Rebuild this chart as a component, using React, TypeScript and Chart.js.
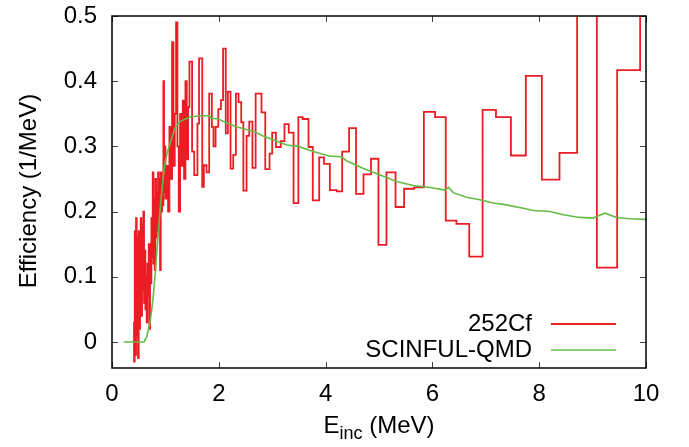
import React, { useEffect, useRef } from 'react';
import { Chart, registerables } from 'chart.js';

Chart.register(...registerables);

// Histogram bin left edges (MeV) — last entry is the right edge of the last bin
const redEdges = [
  0.4000, 0.4125, 0.4250, 0.4375, 0.4500, 0.4625, 0.4750, 0.4875, 0.5000, 0.5125,
  0.5250, 0.5375, 0.5500, 0.5625, 0.5750, 0.5875, 0.6000, 0.6125, 0.6250, 0.6375,
  0.6500, 0.6625, 0.6750, 0.6875, 0.7000, 0.7125, 0.7250, 0.7375, 0.7500, 0.7625,
  0.7750, 0.7875, 0.8000, 0.8125, 0.8250, 0.8375, 0.8500, 0.8625, 0.8750, 0.8875,
  0.9000, 0.9125, 0.9250, 0.9375, 0.9500, 0.9625, 0.9750, 0.9875,
  1.000, 1.025, 1.050, 1.075, 1.100, 1.125,
  1.150, 1.175, 1.200, 1.225, 1.250, 1.275, 1.300, 1.325, 1.350, 1.375,
  1.400, 1.425, 1.450, 1.500, 1.540, 1.600, 1.630, 1.690, 1.720, 1.770,
  1.820, 1.870, 1.900, 1.940, 1.990, 2.040, 2.080, 2.130, 2.170, 2.220,
  2.270, 2.320, 2.370, 2.420, 2.460, 2.520, 2.570, 2.630, 2.690, 2.800,
  2.870, 2.950, 3.000, 3.070, 3.160, 3.230, 3.310, 3.400, 3.490, 3.570,
  3.680, 3.760, 3.880, 3.970, 4.080, 4.210, 4.310, 4.440, 4.570, 4.710,
  4.850, 4.990, 5.140, 5.310, 5.470, 5.660, 5.840, 6.050, 6.250, 6.450,
  6.690, 6.940, 7.190, 7.470, 7.750, 8.050, 8.380, 8.710, 9.080, 9.460,
  9.890, 10.300,
];

// 252Cf efficiency per bin (1/MeV)
const redValues = [
  0.03, -0.03, 0.17, -0.02, 0.19, 0.01, 0.16, -0.025, 0.17, 0.02,
  0.12, 0.19, 0.04, 0.18, 0.08, 0.20, 0.06, 0.14, 0.05, 0.10,
  0.03, 0.12, 0.07, 0.15, 0.02, 0.15, 0.09, 0.19, 0.13, 0.26,
  0.12, 0.22, 0.11, 0.25, 0.16, 0.23, 0.17, 0.26, 0.19, 0.25,
  0.11, 0.26, 0.20, 0.24, 0.21, 0.40, 0.23, 0.30,
  0.22, 0.27, 0.20, 0.33, 0.25, 0.46,
  0.27, 0.35, 0.49, 0.30, 0.20, 0.35, 0.27, 0.37, 0.25, 0.40,
  0.28, 0.36, 0.43, 0.292, 0.256, 0.335, 0.435, 0.238, 0.271, 0.26,
  0.381, 0.33, 0.30, 0.33, 0.357, 0.371, 0.45, 0.32, 0.384, 0.266,
  0.287, 0.381, 0.368, 0.337, 0.232, 0.316, 0.338, 0.267, 0.381, 0.352,
  0.265, 0.289, 0.321, 0.299, 0.308, 0.334, 0.321, 0.213, 0.345, 0.342,
  0.299, 0.217, 0.283, 0.273, 0.233, 0.231, 0.292, 0.328, 0.227, 0.257,
  0.281, 0.149, 0.26, 0.207, 0.235, 0.237, 0.353, 0.345, 0.186, 0.181,
  0.131, 0.356, 0.345, 0.286, 0.408, 0.249, 0.290, 0.60, 0.114, 0.417,
  0.60,
];

// SCINFUL-QMD calculation
const greenEnergy = [
  0.22, 0.60, 0.65, 0.71, 0.76, 0.805, 0.85, 0.90, 0.95, 0.99,
  1.04, 1.09, 1.18, 1.27, 1.46, 1.65, 1.82, 1.86, 1.99, 2.15,
  2.33, 2.52, 2.68, 2.83, 3.02, 3.27, 3.49, 3.77, 4.08, 4.30,
  4.39, 4.71, 5.02, 5.33, 5.64, 5.96, 6.24, 6.30, 6.39, 6.64,
  6.89, 7.14, 7.33, 7.70, 7.89, 8.20, 8.45, 8.76, 9.01, 9.12,
  9.23, 9.45, 9.69, 10.0,
];
const greenEff = [
  0.0, 0.0, 0.008, 0.029, 0.06, 0.10, 0.15, 0.203, 0.245, 0.274,
  0.292, 0.305, 0.328, 0.338, 0.345, 0.347, 0.347, 0.343, 0.342, 0.336,
  0.330, 0.326, 0.322, 0.316, 0.310, 0.302, 0.300, 0.292, 0.285, 0.284,
  0.278, 0.266, 0.256, 0.246, 0.240, 0.237, 0.233, 0.237, 0.229, 0.222,
  0.218, 0.213, 0.211, 0.205, 0.2015, 0.200, 0.195, 0.191, 0.190, 0.194,
  0.1975, 0.191, 0.189, 0.188,
];

const xTicks = [0, 2, 4, 6, 8, 10];
const yTicks = [0, 0.1, 0.2, 0.3, 0.4, 0.5];
const seriesLabels = ['252Cf', 'SCINFUL-QMD'];

const RED = '#ec1c24';
const GREEN = '#66bb44';
const FONT = '"Liberation Sans", Arial, Helvetica, sans-serif';
const FONT_SIZE = 24;

export default function App() {
  const ref = useRef<HTMLCanvasElement>(null);

  useEffect(() => {
    document.body.style.margin = '0';
    const canvas = ref.current;
    if (!canvas) return;

    const redData = redEdges.map((x, i) => ({
      x,
      y: redValues[Math.min(i, redValues.length - 1)],
    }));
    const greenData = greenEnergy.map((x, i) => ({ x, y: greenEff[i] }));

    const framePlugin = {
      id: 'gnuFrame',
      afterDraw(chart: any) {
        const { ctx, chartArea } = chart;
        const { left, right, top, bottom } = chartArea;
        const xs = chart.scales.x;
        const ys = chart.scales.y;
        ctx.save();
        // inward ticks
        ctx.strokeStyle = '#444';
        ctx.lineWidth = 1;
        const tl = 6;
        ctx.beginPath();
        xTicks.forEach((v) => {
          const px = Math.round(xs.getPixelForValue(v)) + 0.5;
          ctx.moveTo(px, bottom);
          ctx.lineTo(px, bottom - tl);
          ctx.moveTo(px, top);
          ctx.lineTo(px, top + tl);
        });
        yTicks.forEach((v) => {
          const py = Math.round(ys.getPixelForValue(v)) + 0.5;
          ctx.moveTo(left, py);
          ctx.lineTo(left + tl, py);
          ctx.moveTo(right, py);
          ctx.lineTo(right - tl, py);
        });
        ctx.stroke();
        // frame
        ctx.strokeStyle = '#000';
        ctx.lineWidth = 1.5;
        ctx.strokeRect(left, top, right - left, bottom - top);

        // legend
        ctx.font = `${FONT_SIZE}px ${FONT}`;
        ctx.fillStyle = '#000';
        ctx.textAlign = 'right';
        ctx.textBaseline = 'middle';
        const legendY = [324, 350];
        const colors = [RED, GREEN];
        seriesLabels.forEach((lab, i) => {
          ctx.fillText(lab, 532, legendY[i]);
          ctx.strokeStyle = colors[i];
          ctx.lineWidth = i === 0 ? 1.8 : 1.6;
          ctx.beginPath();
          ctx.moveTo(551, legendY[i]);
          ctx.lineTo(616, legendY[i]);
          ctx.stroke();
        });

        // y-axis title
        ctx.save();
        ctx.translate(29, 191);
        ctx.rotate(-Math.PI / 2);
        ctx.textAlign = 'center';
        ctx.textBaseline = 'middle';
        ctx.fillStyle = '#000';
        ctx.font = `${FONT_SIZE}px ${FONT}`;
        ctx.fillText('Efficiency (1/MeV)', 0, 0);
        ctx.restore();

        // x-axis title with subscript
        const base = 433;
        const mainFont = `${FONT_SIZE}px ${FONT}`;
        const subFont = `${Math.round(FONT_SIZE * 0.75)}px ${FONT}`;
        ctx.textBaseline = 'alphabetic';
        ctx.textAlign = 'left';
        ctx.font = mainFont;
        const wE = ctx.measureText('E').width;
        const wRest = ctx.measureText(' (MeV)').width;
        ctx.font = subFont;
        const wSub = ctx.measureText('inc').width;
        const total = wE + wSub + wRest;
        let x0 = (left + right) / 2 - total / 2;
        ctx.font = mainFont;
        ctx.fillText('E', x0, base);
        x0 += wE;
        ctx.font = subFont;
        ctx.fillText('inc', x0, base + 6);
        x0 += wSub;
        ctx.font = mainFont;
        ctx.fillText(' (MeV)', x0, base);
        ctx.restore();
      },
    };

    const chart = new Chart(canvas, {
      type: 'scatter',
      data: {
        datasets: [
          {
            label: seriesLabels[0],
            data: redData,
            showLine: true,
            stepped: 'before',
            borderColor: RED,
            borderWidth: 1.8,
            pointRadius: 0,
            fill: false,
            order: 2,
          },
          {
            label: seriesLabels[1],
            data: greenData,
            showLine: true,
            borderColor: GREEN,
            borderWidth: 1.6,
            pointRadius: 0,
            fill: false,
            tension: 0,
            order: 1,
          },
        ],
      },
      options: {
        responsive: false,
        animation: false,
        events: [],
        layout: { padding: { left: 0, right: 43, top: 16, bottom: 0 } },
        plugins: {
          legend: { display: false },
          tooltip: { enabled: false },
        },
        scales: {
          x: {
            type: 'linear',
            min: 0,
            max: 10,
            grid: { display: false, drawTicks: false },
            border: { display: false },
            ticks: {
              padding: 12,
              color: '#000',
              maxRotation: 0,
              font: { family: FONT, size: FONT_SIZE },
              callback: (v: any) => String(v),
            },
            afterBuildTicks: (s: any) => {
              s.ticks = xTicks.map((v) => ({ value: v }));
            },
            afterFit: (s: any) => {
              s.height = 79;
              s.paddingLeft = 0;
              s.paddingRight = 0;
            },
          },
          y: {
            type: 'linear',
            min: -0.04,
            max: 0.5,
            grid: { display: false, drawTicks: false },
            border: { display: false },
            ticks: {
              padding: 15,
              color: '#000',
              font: { family: FONT, size: FONT_SIZE },
              callback: (v: any) => String(Math.round(v * 10) / 10),
            },
            afterBuildTicks: (s: any) => {
              s.ticks = yTicks.map((v) => ({ value: v }));
            },
            afterFit: (s: any) => {
              s.width = 112;
              s.paddingTop = 0;
              s.paddingBottom = 0;
            },
          },
        },
      },
      plugins: [framePlugin],
    });

    return () => chart.destroy();
  }, []);

  return (
    <canvas
      ref={ref}
      width={689}
      height={447}
      style={{ display: 'block', width: '689px', height: '447px' }}
    />
  );
}
